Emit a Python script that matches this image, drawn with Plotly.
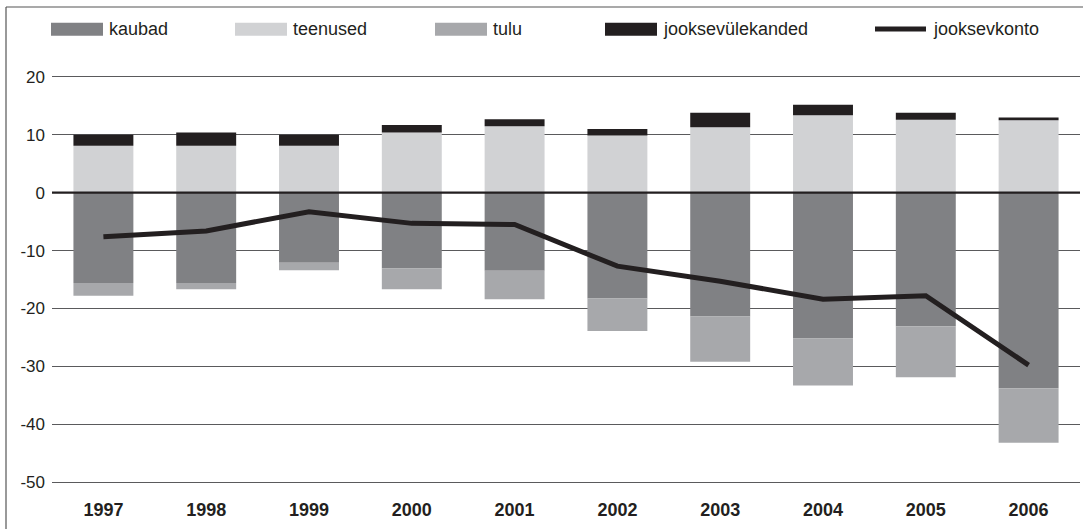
import plotly.graph_objects as go

years = ["1997", "1998", "1999", "2000", "2001", "2002", "2003", "2004", "2005", "2006"]
kaubad = [-15.6, -15.6, -12.1, -13.1, -13.5, -18.3, -21.4, -25.2, -23.1, -33.8]
teenused = [8.1, 8.1, 8.1, 10.4, 11.5, 9.9, 11.3, 13.4, 12.6, 12.5]
tulu = [-2.2, -1.1, -1.3, -3.6, -4.9, -5.6, -7.8, -8.1, -8.8, -9.4]
jooksevulekanded = [1.9, 2.3, 1.9, 1.3, 1.2, 1.1, 2.5, 1.8, 1.2, 0.5]
jooksevkonto = [-7.6, -6.6, -3.3, -5.3, -5.5, -12.7, -15.3, -18.4, -17.8, -29.8]

y_ticks = [-50, -40, -30, -20, -10, 0, 10, 20]
y_tick_labels = ["-50", "-40", "-30", "-20", "-10", "0", "10", "20"]

C_KAUBAD = "#808184"
C_TEENUSED = "#d1d2d4"
C_TULU = "#a7a8ab"
C_JOOKS = "#231f20"
C_LINE = "#231f20"
FONT = "Liberation Sans, Arial, Helvetica, sans-serif"

W, H = 1083, 529
ML, MR, MT, MB = 52, 3, 65, 36
PW = W - ML - MR
PH = H - MT - MB


def px_x(px):
    return (px - ML) / PW


def px_y(py):
    return (H - MB - py) / PH


fig = go.Figure()
fig.add_trace(go.Bar(x=years, y=kaubad, name="kaubad", marker=dict(color=C_KAUBAD, line=dict(width=0))))
fig.add_trace(go.Bar(x=years, y=teenused, name="teenused", marker=dict(color=C_TEENUSED, line=dict(width=0))))
fig.add_trace(go.Bar(x=years, y=tulu, name="tulu", marker=dict(color=C_TULU, line=dict(width=0))))
fig.add_trace(go.Bar(x=years, y=jooksevulekanded, name="jooksevülekanded", marker=dict(color=C_JOOKS, line=dict(width=0))))
fig.add_trace(go.Scatter(x=years, y=jooksevkonto, name="jooksevkonto", mode="lines",
                         line=dict(color=C_LINE, width=5)))

shapes = []
annotations = []

# zero line above bars
shapes.append(dict(type="line", xref="paper", yref="y", x0=0, x1=1, y0=0, y1=0,
                   line=dict(color="#231f20", width=2.2), layer="above"))

# frame (top and left)
shapes.append(dict(type="line", xref="paper", yref="paper", x0=px_x(6), x1=px_x(W + 2),
                   y0=px_y(7), y1=px_y(7), line=dict(color="#555555", width=1.2)))
shapes.append(dict(type="line", xref="paper", yref="paper", x0=px_x(6), x1=px_x(6),
                   y0=px_y(7), y1=px_y(H + 2), line=dict(color="#555555", width=1.2)))

# custom legend
legend_items = [
    ("kaubad", C_KAUBAD, 51, "bar"),
    ("teenused", C_TEENUSED, 235, "bar"),
    ("tulu", C_TULU, 435, "bar"),
    ("jooksevülekanded", C_JOOKS, 605, "bar"),
    ("jooksevkonto", C_LINE, 875, "line"),
]
for label, color, x0, kind in legend_items:
    if kind == "bar":
        shapes.append(dict(type="rect", xref="paper", yref="paper",
                           x0=px_x(x0), x1=px_x(x0 + 52), y0=px_y(22.7), y1=px_y(35.7),
                           fillcolor=color, line=dict(width=0)))
    else:
        shapes.append(dict(type="line", xref="paper", yref="paper",
                           x0=px_x(x0), x1=px_x(x0 + 51), y0=px_y(29), y1=px_y(29),
                           line=dict(color=color, width=5)))
    annotations.append(dict(text=label, xref="paper", yref="paper", x=px_x(x0 + 56), y=px_y(29),
                            xanchor="left", yanchor="middle", showarrow=False,
                            font=dict(family=FONT, size=18, color="#231f20")))

fig.update_layout(
    width=W, height=H,
    margin=dict(l=ML, r=MR, t=MT, b=MB),
    paper_bgcolor="white", plot_bgcolor="white",
    barmode="relative", bargap=0.417,
    showlegend=False,
    font=dict(family=FONT, size=17, color="#231f20"),
    shapes=shapes, annotations=annotations,
    xaxis=dict(showgrid=False, showline=False, zeroline=False, ticks="",
               tickfont=dict(family=FONT, size=18, color="#231f20", weight="bold"),
               ticklabelstandoff=4),
    yaxis=dict(range=[-51.9, 22.07], tickvals=y_ticks, ticktext=y_tick_labels,
               showgrid=True, gridcolor="#5a5a5c",
               gridwidth=1, zeroline=False, showline=False, ticks="",
               tickfont=dict(family=FONT, size=17, color="#231f20"), ticklabelstandoff=6),
)

fig.write_html("out.html", config={"displayModeBar": False},
               post_script="document.body.style.margin='0';document.body.style.overflow='hidden';")
